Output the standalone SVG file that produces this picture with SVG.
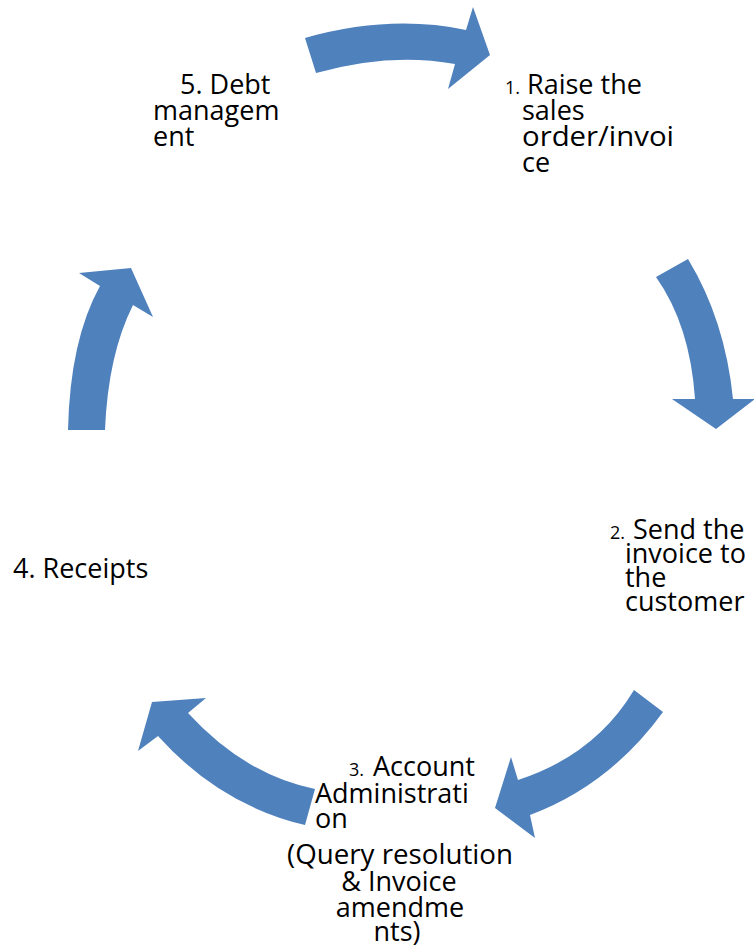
<svg xmlns="http://www.w3.org/2000/svg" width="754" height="951" viewBox="0 0 754 951">
<style>
.t{font-family:"Open Sans","Noto Sans","Liberation Sans",sans-serif;font-size:27px;fill:#000;font-variant-ligatures:none}
.n{font-family:"Open Sans","Noto Sans","Liberation Sans",sans-serif;font-size:18px;fill:#000}
.c{text-anchor:middle}
.a{fill:#4F81BD;stroke:none}
</style>
<rect width="754" height="951" fill="#fff"/>
<g id="connectors">
<path class="a" d="M305,38 Q390,14 466,30 L473,7 L490,55 L448,89 L455,64 Q390,52 316,73 Z"/>
<path class="a" d="M688,259 Q725,320 733,399 L755,399 L716,429 L672,399 L695,399 Q690,325 656,277 Z"/>
<path class="a" d="M663,712 Q610,785 530,815 L535,838 L495,808 L511,757 L518,780 Q595,755 634,690 Z"/>
<path class="a" d="M315,789 Q245,775 188,713 L206,698 L152,702 L138,751 L158,736 Q220,805 305,825 Z"/>
<path class="a" d="M68,430 Q70,340 100,286 L79,273 L131,268 L153,317 L133,305 Q108,355 105,430 Z"/>
</g>
<g id="node1">
<text class="n" x="505" y="94">1.</text>
<text class="t" x="527" y="94">Raise the</text>
<text class="t" x="522" y="120">sales</text>
<text class="t" x="522" y="146" textLength="152" lengthAdjust="spacingAndGlyphs">order/invoi</text>
<text class="t" x="522" y="172">ce</text>
</g>
<g id="node2">
<text class="n" x="610" y="539">2.</text>
<text class="t" x="633" y="539">Send the</text>
<text class="t" x="625" y="563">invoice to</text>
<text class="t" x="625" y="587">the</text>
<text class="t" x="625" y="611">customer</text>
</g>
<g id="node3">
<text class="n" x="349" y="776">3.</text>
<text class="t" x="373" y="776">Account</text>
<text class="t" x="315" y="803">Administrati</text>
<text class="t" x="315" y="828">on</text>
<text class="t c" x="400" y="864" textLength="226" lengthAdjust="spacingAndGlyphs">(Query resolution</text>
<text class="t c" x="399" y="891">&amp; Invoice</text>
<text class="t c" x="400" y="917">amendme</text>
<text class="t c" x="397" y="941">nts)</text>
</g>
<g id="node4">
<text class="t" x="13" y="578">4. Receipts</text>
</g>
<g id="node5">
<text class="t" x="180" y="94">5. Debt</text>
<text class="t" x="153" y="120">managem</text>
<text class="t" x="153" y="146">ent</text>
</g>
</svg>
